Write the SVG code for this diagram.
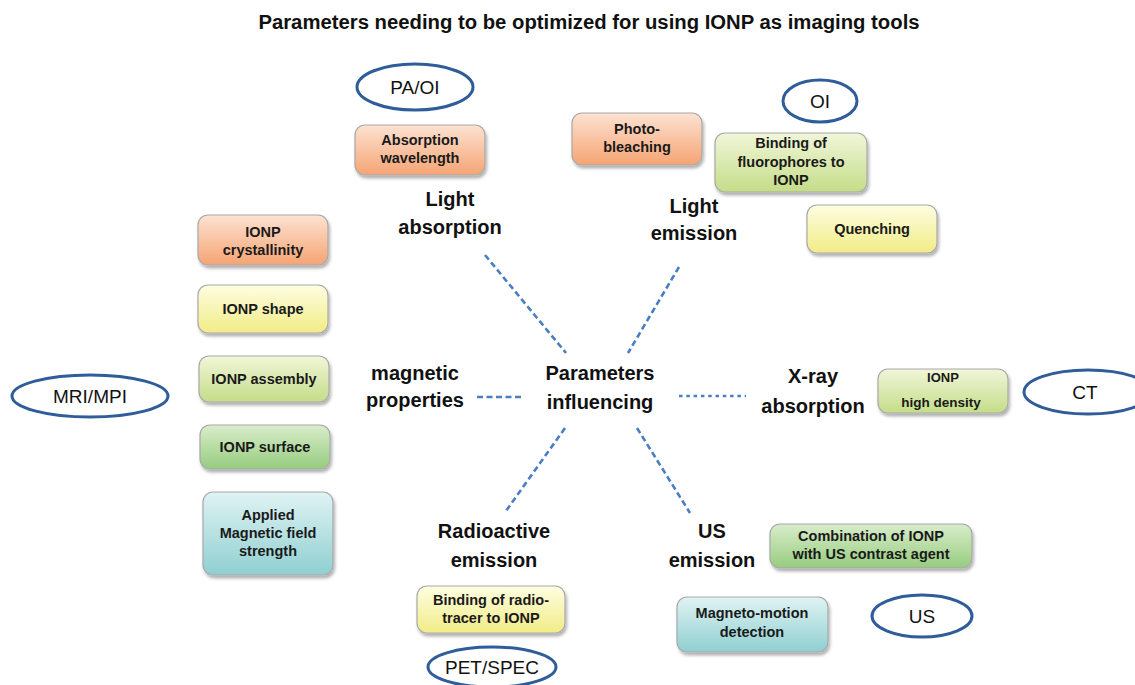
<svg xmlns="http://www.w3.org/2000/svg" width="1135" height="685" viewBox="0 0 1135 685">
<defs>
<linearGradient id="gOr" x1="0" y1="0" x2="0" y2="1"><stop offset="0" stop-color="#fde2d2"/><stop offset="1" stop-color="#f5a473"/></linearGradient>
<linearGradient id="gYe" x1="0" y1="0" x2="0" y2="1"><stop offset="0" stop-color="#fefee2"/><stop offset="1" stop-color="#f1ec86"/></linearGradient>
<linearGradient id="gYg" x1="0" y1="0" x2="0" y2="1"><stop offset="0" stop-color="#f1f6d9"/><stop offset="1" stop-color="#c4dd88"/></linearGradient>
<linearGradient id="gGr" x1="0" y1="0" x2="0" y2="1"><stop offset="0" stop-color="#d9edcb"/><stop offset="1" stop-color="#96cc7e"/></linearGradient>
<linearGradient id="gTe" x1="0" y1="0" x2="0" y2="1"><stop offset="0" stop-color="#e0f3f3"/><stop offset="1" stop-color="#8fcfd1"/></linearGradient>
<filter id="sh" x="-10%" y="-10%" width="125%" height="135%"><feDropShadow dx="1.5" dy="3" stdDeviation="1.8" flood-color="#000" flood-opacity="0.3"/></filter>
<style>
.box{stroke:#a8a8a8;stroke-width:1.2;filter:url(#sh)}
.or{fill:url(#gOr)} .ye{fill:url(#gYe)} .yg{fill:url(#gYg)} .gr{fill:url(#gGr)} .te{fill:url(#gTe)}
.bt{font-family:"Liberation Sans",Arial,sans-serif;font-weight:bold;font-size:14.5px;fill:#1a1a1a;text-anchor:middle}
.cat{font-family:"Liberation Sans",Arial,sans-serif;font-weight:bold;font-size:20px;fill:#111;text-anchor:middle}
.ell{fill:none;stroke:#2e5d99;stroke-width:3}
.et{font-family:"Liberation Sans",Arial,sans-serif;font-size:19px;fill:#111;text-anchor:middle}
.conn{stroke:#4a7ec4;stroke-width:2.6;fill:none;stroke-dasharray:6 3.5}
.dot{stroke-dasharray:3.5 3.8}
</style>
</defs>
<rect width="1135" height="685" fill="#fff"/>
<text x="589" y="29" class="cat" style="font-size:20.3px">Parameters needing to be optimized for using IONP as imaging tools</text>

<g id="connectors">
<line class="conn" x1="485" y1="255" x2="566" y2="353"/>
<line class="conn" x1="679" y1="267" x2="628" y2="353"/>
<line class="conn" x1="477" y1="397" x2="523" y2="397"/>
<line class="conn dot" x1="679" y1="396" x2="746" y2="396"/>
<line class="conn" x1="565" y1="428" x2="506" y2="511"/>
<line class="conn" x1="637" y1="428" x2="690" y2="513"/>
</g>

<g id="center"><text class="cat" x="600" y="380">Parameters</text><text class="cat" x="600" y="409">influencing</text></g>
<g id="light-absorption"><text class="cat" x="450" y="206">Light</text><text class="cat" x="450" y="234">absorption</text></g>
<g id="light-emission"><text class="cat" x="694" y="213">Light</text><text class="cat" x="694" y="240">emission</text></g>
<g id="magnetic-properties"><text class="cat" x="415" y="380">magnetic</text><text class="cat" x="415" y="407">properties</text></g>
<g id="xray-absorption"><text class="cat" x="813" y="383">X-ray</text><text class="cat" x="813" y="413">absorption</text></g>
<g id="radioactive-emission"><text class="cat" x="494" y="538">Radioactive</text><text class="cat" x="494" y="567">emission</text></g>
<g id="us-emission"><text class="cat" x="712" y="538">US</text><text class="cat" x="712" y="567">emission</text></g>

<g id="pa-oi"><ellipse class="ell" cx="415" cy="87" rx="58" ry="23"/><text class="et" x="415" y="94">PA/OI</text></g>
<g id="oi"><ellipse class="ell" cx="820" cy="101" rx="37" ry="21"/><text class="et" x="820" y="108">OI</text></g>
<g id="mri-mpi"><ellipse class="ell" cx="90" cy="396" rx="78" ry="21"/><text class="et" x="90" y="403">MRI/MPI</text></g>
<g id="ct"><ellipse class="ell" cx="1088" cy="392" rx="64" ry="22"/><text class="et" x="1085" y="399">CT</text></g>
<g id="us"><ellipse class="ell" cx="922" cy="616" rx="50" ry="21"/><text class="et" x="922" y="623">US</text></g>
<g id="pet-spec"><ellipse class="ell" cx="492" cy="667" rx="64" ry="20"/><text class="et" x="492" y="674">PET/SPEC</text></g>

<g id="absorption-wavelength"><rect class="box or" x="355" y="125" width="130" height="50" rx="10"/><text class="bt" x="420" y="145">Absorption</text><text class="bt" x="420" y="163">wavelength</text></g>
<g id="photo-bleaching"><rect class="box or" x="572" y="113" width="130" height="52" rx="10"/><text class="bt" x="637" y="134">Photo-</text><text class="bt" x="637" y="152">bleaching</text></g>
<g id="binding-fluorophores"><rect class="box yg" x="715" y="133" width="152" height="59" rx="10"/><text class="bt" x="791" y="148">Binding of</text><text class="bt" x="791" y="167">fluorophores to</text><text class="bt" x="791" y="185">IONP</text></g>
<g id="quenching"><rect class="box ye" x="807" y="205" width="130" height="48" rx="10"/><text class="bt" x="872" y="234">Quenching</text></g>
<g id="ionp-crystallinity"><rect class="box or" x="198" y="215" width="130" height="50" rx="10"/><text class="bt" x="263" y="237">IONP</text><text class="bt" x="263" y="255">crystallinity</text></g>
<g id="ionp-shape"><rect class="box ye" x="198" y="285" width="130" height="48" rx="10"/><text class="bt" x="263" y="314">IONP shape</text></g>
<g id="ionp-assembly"><rect class="box yg" x="199" y="356" width="130" height="46" rx="10"/><text class="bt" x="264" y="384">IONP assembly</text></g>
<g id="ionp-surface"><rect class="box gr" x="200" y="425" width="130" height="44" rx="10"/><text class="bt" x="265" y="452">IONP surface</text></g>
<g id="applied-field"><rect class="box te" x="203" y="492" width="130" height="83" rx="10"/><text class="bt" x="268" y="520">Applied</text><text class="bt" x="268" y="538">Magnetic field</text><text class="bt" x="268" y="556">strength</text></g>
<g id="ionp-high-density"><rect class="box yg" x="878" y="369" width="130" height="44" rx="10"/><text class="bt" x="943" y="382" style="font-size:13px">IONP</text><text class="bt" x="941" y="407" style="font-size:13.5px">high density</text></g>
<g id="combination"><rect class="box gr" x="770" y="524" width="202" height="44" rx="10"/><text class="bt" x="871" y="541">Combination of IONP</text><text class="bt" x="871" y="559">with US contrast agent</text></g>
<g id="magneto-motion"><rect class="box te" x="677" y="597" width="151" height="55" rx="10"/><text class="bt" x="752" y="618">Magneto-motion</text><text class="bt" x="752" y="637">detection</text></g>
<g id="binding-radiotracer"><rect class="box ye" x="417" y="586" width="148" height="47" rx="10"/><text class="bt" x="491" y="605">Binding of radio-</text><text class="bt" x="491" y="623">tracer to IONP</text></g>
</svg>
